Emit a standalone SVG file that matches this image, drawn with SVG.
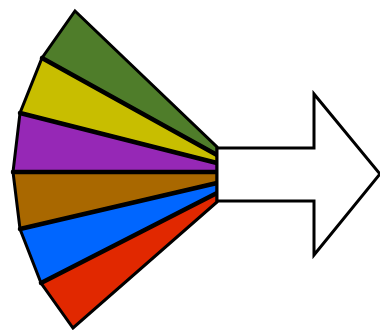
<svg xmlns="http://www.w3.org/2000/svg" width="380" height="330" viewBox="0 0 380 330">
<style>
.w{stroke:#000;stroke-width:3;stroke-linejoin:miter}
.b{stroke:#000;stroke-width:4.5;stroke-linecap:round}
.a{fill:#fff;stroke:#000;stroke-width:3;stroke-linejoin:miter}
</style>
<rect width="380" height="330" fill="#fff"/>
<g id="fan">
<polygon id="green" class="w" fill="#4f7d2a" points="75,11 217,147 217,155 42,58"/>
<polygon id="yellow" class="w" fill="#c8be00" points="42,58 217,155 217,163 20,113"/>
<polygon id="purple" class="w" fill="#9628b6" points="20,113 217,163 217,172 13,172"/>
<polygon id="brown" class="w" fill="#a96800" points="13,172 217,172 217,183 20,229"/>
<polygon id="blue" class="w" fill="#0066ff" points="20,229 217,183 217,193 41,283"/>
<polygon id="red" class="w" fill="#e12800" points="41,283 217,193 217,202 73,328"/>
<path class="b" d="M42,58 L217,155 M20,113 L217,163 M13,172 L217,172 M20,229 L217,183 M41,283 L217,193"/>
</g>
<g id="arrow">
<path class="a" d="M217,148 H314 V94 L380,174 L314,255 V201 H217 Z"/>
</g>
</svg>
